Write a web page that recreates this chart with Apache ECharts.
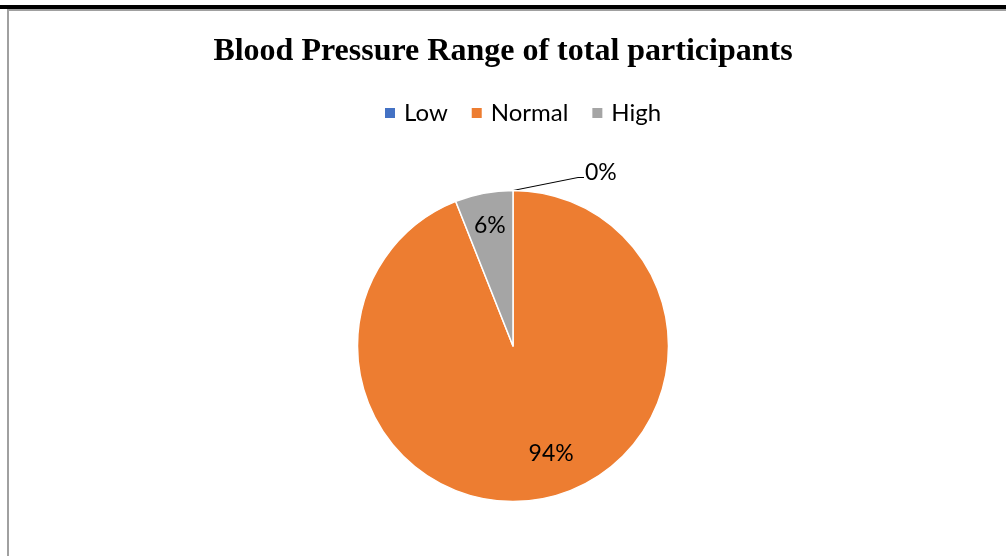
<!DOCTYPE html>
<html>
<head>
<meta charset="utf-8">
<style>
    html, body { margin: 0; padding: 0; background: #fff; }
    #main { width: 1006px; height: 556px; }
</style>
<script src="https://cdn.jsdelivr.net/npm/echarts@6/dist/echarts.min.js"></script>
</head>
<body>
<div id="main"></div>
<script type="text/javascript">
    // 数据
    const categories = ['Low', 'Normal', 'High'];
    const values = [0, 94, 6];
    const colors = ['#4472C4', '#ED7D31', '#A5A5A5'];

    let seriesData = [];
    for (let i = 0; i < categories.length; i++) {
        seriesData.push({ name: categories[i], value: values[i], itemStyle: { color: colors[i] } });
    }
    // Low 的标签放在外面, 带引导线
    seriesData[0].label = { position: 'outside' };
    seriesData[0].labelLine = { show: true, length: 5, length2: 6, lineStyle: { color: '#000', width: 1 } };

    // 标签微调位置
    const labelShift = [[72, -18], [23, 28], [-8, -41]];

    let myChart = echarts.init(document.getElementById('main'));
    let option = {
        animation: false,
        title: {
            text: 'Blood Pressure Range of total participants',
            left: 'center',
            top: 31,
            textStyle: { fontFamily: 'Liberation Serif', fontWeight: 'bold', fontSize: 32, color: '#000' }
        },
        legend: {
            top: 96,
            left: 378,
            itemWidth: 12,
            itemHeight: 12,
            itemGap: 22,
            icon: 'rect',
            data: categories,
            textStyle: { fontFamily: 'Lato', fontSize: 24, color: '#000', padding: [0, 0, 0, 3] }
        },
        graphic: [
            { type: 'rect', shape: { x: 0, y: 5, width: 1006, height: 4 }, style: { fill: '#000' } },
            { type: 'rect', shape: { x: 7, y: 9, width: 999, height: 2 }, style: { fill: '#a0a0a0' } },
            { type: 'rect', shape: { x: 7, y: 9, width: 2, height: 547 }, style: { fill: '#a0a0a0' } }
        ],
        series: [{
            name: 'Blood Pressure',
            type: 'pie',
            center: [513, 346],
            radius: 155.5,
            startAngle: 90,
            clockwise: true,
            avoidLabelOverlap: false,
            data: seriesData,
            itemStyle: { borderColor: '#fff', borderWidth: 1.5 },
            label: {
                show: true,
                position: 'inside',
                fontFamily: 'Lato',
                fontSize: 23,
                color: '#000',
                formatter: function (p) { return Math.round(p.percent) + '%'; }
            },
            labelLayout: function (params) {
                let s = labelShift[params.dataIndex];
                if (params.dataIndex === 0 && params.labelLinePoints) {
                    // 外部标签: 从扇区边缘拉一条斜线再接短横线
                    let p0 = params.labelLinePoints[0];
                    let x = p0[0] + s[0];
                    let y = p0[1] + s[1];
                    return {
                        x: x, y: y, align: 'left', verticalAlign: 'middle',
                        labelLinePoints: [p0, [x - 7, y + 5], [x - 1, y + 5]]
                    };
                }
                return { dx: s[0], dy: s[1] };
            }
        }]
    };
    myChart.setOption(option);
</script>
</body>
</html>
